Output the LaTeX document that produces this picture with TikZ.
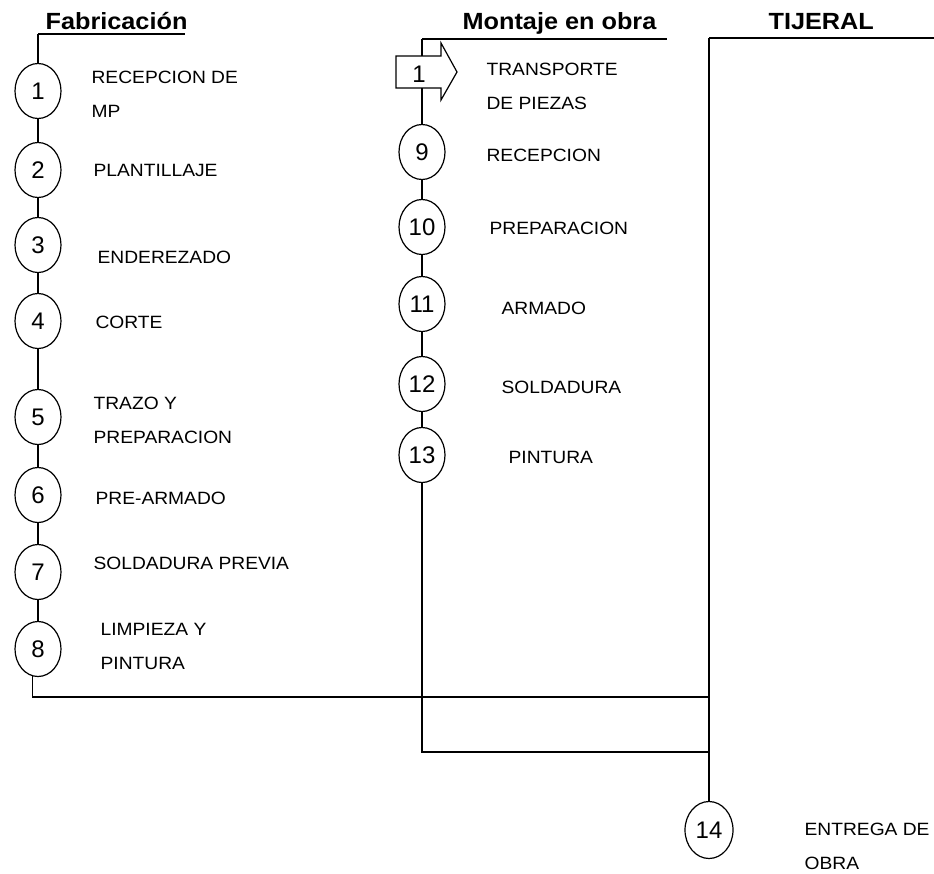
\documentclass[tikz,border=0pt]{standalone}
\usepackage{fontspec}
\newfontfamily\lblfont{Liberation Sans}[FakeStretch=1.08]
\newfontfamily\numfont{Liberation Sans}
\usetikzlibrary{shapes.geometric}

\begin{document}
\begin{tikzpicture}[x=1pt,y=-1pt,line width=1.2pt,
  op/.style={ellipse,draw,fill=white,minimum width=46pt,minimum height=55pt,
    inner sep=0pt,font=\numfont\fontsize{24}{24}\selectfont},
  lbl/.style={anchor=west,inner sep=0pt,align=left,
    font=\lblfont\fontsize{17.8}{34}\selectfont},
  ttl/.style={anchor=base west,inner sep=0pt,
    font=\lblfont\bfseries\fontsize{23.4}{23.4}\selectfont},
  arrowbox/.style={draw,fill=white,line join=miter}]
\useasboundingbox (0,0) rectangle (934,873);

% ---------- headings with their underlines ----------
\node[ttl] (hFab) at (45,29) {Fabricación};
\node[ttl] (hMon) at (462,29) {Montaje en obra};
\node[ttl] (hTij) at (768,29) {TIJERAL};
\coordinate (fab0) at (38,34);
\coordinate (fabE) at (185,34);
\coordinate (mon0) at (422,39);
\coordinate (monE) at (667,39);
\coordinate (tij0) at (709,38);
\coordinate (tijE) at (934,38);
\draw (fab0) -- (fabE);
\draw (mon0) -- (monE);
\draw (tij0) -- (tijE);

% ---------- fabrication column ----------
\node[op] (c1) at (38,91)  {1};
\node[op] (c2) at (38,170) {2};
\node[op] (c3) at (38,245) {3};
\node[op] (c4) at (38,321) {4};
\node[op] (c5) at (38,417) {5};
\node[op] (c6) at (38,495) {6};
\node[op] (c7) at (38,572) {7};
\node[op] (c8) at (38,649) {8};

\draw (fab0) -- (c1.north);
\draw (c1.south) -- (c2.north);
\draw (c2.south) -- (c3.north);
\draw (c3.south) -- (c4.north);
\draw (c4.south) -- (c5.north);
\draw (c5.south) -- (c6.north);
\draw (c6.south) -- (c7.north);
\draw (c7.south) -- (c8.north);

\node[lbl] (l1) at (91,94.5) {RECEPCION DE\\MP};
\node[lbl] (l2) at (93,170)  {PLANTILLAJE};
\node[lbl] (l3) at (97,257)  {ENDEREZADO};
\node[lbl] (l4) at (95,322)  {CORTE};
\node[lbl] (l5) at (93,420.5) {TRAZO Y\\PREPARACION};
\node[lbl] (l6) at (95,498)  {PRE-ARMADO};
\node[lbl] (l7) at (93,563)  {SOLDADURA PREVIA};
\node[lbl] (l8) at (100,646) {LIMPIEZA Y\\PINTURA};

% ---------- site assembly column ----------
\draw[arrowbox] (396,56) -- (441,56) -- (441,43) -- (457,72)
  -- (441,100) -- (441,88) -- (396,88) -- cycle;
\node[inner sep=0pt,font=\numfont\fontsize{24}{24}\selectfont] (t1) at (419,74) {1};
\coordinate (t1in) at (422,56);
\coordinate (t1out) at (422,88);

\node[op] (c9)  at (422,152) {9};
\node[op] (c10) at (422,227) {10};
\node[op] (c11) at (422,304) {11};
\node[op] (c12) at (422,384) {12};
\node[op] (c13) at (422,455) {13};

\draw (mon0) -- (t1in);
\draw (t1out) -- (c9.north);
\draw (c9.south) -- (c10.north);
\draw (c10.south) -- (c11.north);
\draw (c11.south) -- (c12.north);
\draw (c12.south) -- (c13.north);

\node[lbl] (m1)  at (486,86)  {TRANSPORTE\\DE PIEZAS};
\node[lbl] (m9)  at (486,155) {RECEPCION};
\node[lbl] (m10) at (489,228) {PREPARACION};
\node[lbl] (m11) at (501,308) {ARMADO};
\node[lbl] (m12) at (501,387) {SOLDADURA};
\node[lbl] (m13) at (508,457) {PINTURA};

% ---------- truss delivery ----------
\node[op,minimum width=48pt,minimum height=57pt] (c14) at (709,830) {14};
\node[lbl] (e14) at (804,846.5) {ENTREGA DE\\OBRA};

\coordinate (j1) at (709,697);
\coordinate (j2) at (709,752);
\draw (tij0) -- (c14.north);
\draw (c8.259) |- (j1);
\draw (c13.south) |- (j2);
\end{tikzpicture}
\end{document}
